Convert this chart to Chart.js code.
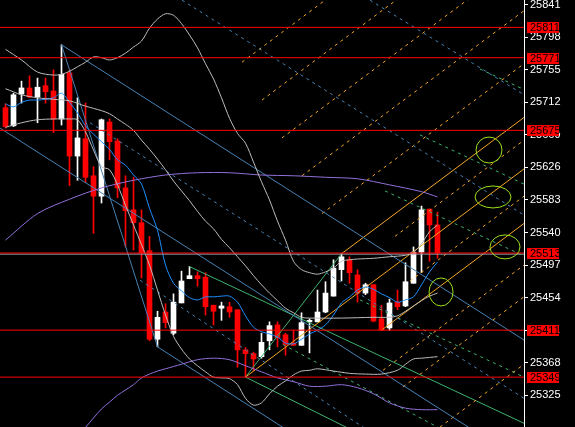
<!DOCTYPE html>
<html>
<head>
<meta charset="UTF-8">
<title>Chart</title>
<script src="https://cdn.jsdelivr.net/npm/chart.js@4"></script>
<style>
  html, body { margin: 0; padding: 0; background: #000; overflow: hidden; }
  canvas { display: block; }
</style>
</head>
<body>
<canvas id="c" width="575" height="427"></canvas>
<script>
// candles (one per bar, left to right)
const opens  = [25705,25681,25723,25731,25719,25734,25727,25690,25751,25641,25664,25615,25588,25686,25661,25599,25570,25553,25516,25399,25435,25407,25447,25479,25483,25481,25444,25440,25442,25438,25385,25380,25376,25397,25418,25405,25394,25391,25422,25422,25435,25456,25491,25504,25484,25460,25471,25426,25414,25448,25443,25473,25514,25571,25550];
const highs  = [25710,25724,25740,25747,25744,25744,25755,25788,25755,25718,25711,25627,25690,25690,25664,25615,25613,25570,25535,25436,25446,25459,25489,25495,25488,25487,25444,25448,25448,25438,25388,25382,25407,25422,25422,25407,25411,25434,25426,25464,25475,25504,25512,25508,25491,25473,25471,25444,25452,25464,25500,25521,25575,25571,25567];
const lows   = [25678,25680,25711,25718,25685,25711,25672,25682,25602,25609,25606,25539,25579,25636,25586,25521,25517,25480,25397,25389,25414,25405,25447,25479,25469,25431,25418,25424,25428,25362,25349,25358,25374,25385,25389,25378,25391,25391,25381,25422,25434,25456,25476,25473,25448,25458,25422,25411,25411,25438,25442,25473,25487,25502,25506];
const closes = [25680,25722,25731,25719,25732,25726,25690,25749,25641,25665,25613,25588,25689,25660,25599,25569,25553,25513,25399,25428,25421,25448,25476,25483,25479,25442,25436,25443,25435,25385,25380,25373,25395,25417,25401,25392,25391,25421,25424,25435,25460,25493,25508,25487,25460,25471,25423,25411,25447,25442,25475,25514,25570,25550,25513];

// fast moving average, one value per bar
const maFast = [25710,25706,25712,25715,25715,25716,25718,25724,25712,25698,25681,25670,25660,25650,25636,25629,25616,25604,25572,25543,25497,25473,25463,25454,25451,25455,25455,25456,25456,25448,25430,25415,25409,25406,25402,25394,25393,25399,25406,25411,25418,25431,25447,25455,25464,25468,25465,25459,25454,25448,25451,25455,25471,25488,25501];

// bands: [bar, price]
const bandUpper = [[0,25782],[2,25768],[4,25752],[6,25748],[7,25749],[8,25753],[9,25759],[10,25765],[11,25772],[12,25771],[13,25768],[14,25771],[15,25777],[16,25785],[17,25793],[18,25810],[19,25822],[20,25829],[21,25827],[22,25816],[23,25801],[24,25784],[25,25763],[26,25743],[27,25718],[28,25691],[29,25671],[30,25658],[31,25633],[32,25607],[33,25583],[34,25555],[35,25530],[36,25502],[37,25491],[38,25487],[39,25485],[40,25488],[41,25493],[42,25502],[43,25504],[44,25505],[46,25506],[48,25508],[50,25510],[51,25514],[52,25525],[53,25541],[54,25550]];
const bandMid = [[0,25730],[2,25722],[4,25718],[6,25716],[8,25714],[10,25707],[12,25701],[13,25697],[14,25690],[15,25683],[16,25675],[17,25662],[18,25650],[19,25637],[20,25623],[21,25608],[22,25595],[23,25582],[24,25568],[25,25555],[26,25545],[27,25531],[28,25520],[29,25508],[30,25496],[31,25483],[32,25471],[33,25460],[34,25450],[35,25440],[36,25434],[37,25428],[38,25427],[42,25427],[46,25428],[48,25428],[49,25430],[50,25436],[51,25443],[52,25450],[53,25456],[54,25460]];
const bandLower = [[0,25679],[2,25685],[4,25689],[6,25690],[8,25690],[9,25689],[10,25673],[11,25649],[12,25627],[13,25623],[14,25603],[15,25576],[16,25550],[17,25524],[18,25497],[19,25464],[20,25431],[21,25403],[22,25386],[23,25373],[24,25364],[25,25356],[26,25349],[27,25348],[28,25347],[29,25339],[30,25321],[31,25312],[32,25315],[33,25327],[34,25337],[35,25344],[36,25352],[37,25357],[38,25358],[39,25360],[41,25357],[43,25354],[45,25353],[47,25353],[49,25358],[50,25366],[51,25373],[52,25374],[54,25376]];
const envUpper = [[0,25530],[4,25565],[8,25584],[12,25599],[16,25609],[20,25616],[24,25619],[28,25619],[32,25616],[36,25615],[40,25613],[44,25611],[48,25603],[52,25594],[54,25587]];
const envLower = [[9,25270],[11,25295],[12,25307],[13,25316],[14,25325],[15,25332],[16,25339],[17,25348],[18,25353],[19,25357],[20,25360],[22,25366],[24,25372],[26,25374],[28,25372],[30,25364],[32,25356],[34,25348],[36,25343],[38,25337],[40,25337],[42,25339],[44,25335],[46,25327],[48,25315],[50,25308],[52,25306],[54,25306]];

// horizontal levels
const redLevels = [25811, 25771, 25675, 25513, 25411, 25349];
const bidLevel = [25511.5];

// trend lines: [bar1, price1, bar2, price2]
const blueSolid = [[7,25788,64.81,25398],[-0.69,25678,64.81,25236]];
const blueZigzag = [[7,25788],[19,25389],[64.81,25078]];
const blueDashed = [[22.06,25847,64.81,25563],[45.56,25847,64.81,25722],[10.56,25685,64.81,25321],[16.81,25477,64.81,25143]];
const orangeSolid = [[42,25512,64.81,25692],[30,25349,64.81,25624],[47,25411,64.81,25552]];
const orangeDashed = [[29.56,25765,64.81,26043],[32.06,25715,64.81,25973],[34.56,25665,64.81,25903],[37.06,25615,64.81,25833],[39.56,25565,64.81,25763],[48.69,25535,64.81,25662],[50.56,25476,64.81,25588],[47.19,25358,64.81,25497],[49.69,25336,64.81,25455],[54.31,25283,64.81,25366]];
const greenSolid = [[23,25495,64.81,25288],[30,25349,42,25512],[30,25349,64.81,25166]];
const greenDashed = [[59.31,25756,64.81,25729],[51.81,25669,64.81,25604],[47.44,25595,64.81,25509],[44.31,25451,64.81,25349],[34.69,25392,64.81,25222]];

// marked zones: [bar, price]
const zones = [[60.44,25649],[60.94,25587],[62.44,25521],[54.44,25461.5]];

// price axis labels
const yTicks = [25841,25798,25755,25712,25669,25626,25583,25540,25497,25454,25411,25368,25325];

const xMin = -0.6875, xMax = 64.8125;
const yMin = 25283.1, yMax = 25847.2;

const zoneRadii = [[13,13],[18,11],[15,12],[12,14]];
const FONT = "'Liberation Sans Narrow', 'Liberation Sans', Arial, sans-serif";

function line(points, color, dash, tension) {
  return {
    type: 'line',
    data: points.map(p => ({x: p[0], y: p[1]})),
    borderColor: color,
    borderWidth: 1,
    borderDash: dash || [],
    pointRadius: 0,
    fill: false,
    tension: tension || 0,
    order: 1
  };
}

const datasets = [];
const idx = opens.map((_, i) => i);
const candleColors = idx.map(i => closes[i] >= opens[i] ? '#ffffff' : '#ff0000');

datasets.push({
  type: 'bar', data: idx.map(i => ({x: i, y: [lows[i], highs[i]]})),
  backgroundColor: candleColors, barThickness: 1, grouped: false, order: 20
});
datasets.push({
  type: 'bar', data: idx.map(i => ({x: i, y: [opens[i], closes[i]]})),
  backgroundColor: candleColors, barThickness: 5, minBarLength: 1, grouped: false, order: 19
});

redLevels.forEach(v => datasets.push(line([[xMin, v], [xMax, v]], '#ff0000')));
bidLevel.forEach(v => datasets.push(line([[xMin, v], [xMax, v]], '#9aa6b4')));

datasets.push(line(bandUpper, '#bdbdbd', null, 0.3));
datasets.push(line(bandMid, '#bdbdbd', null, 0.3));
datasets.push(line(bandLower, '#bdbdbd', null, 0.3));
datasets.push(line(envUpper, '#9370db', null, 0.3));
datasets.push(line(envLower, '#9370db', null, 0.3));
datasets.push(line(idx.map(i => [i, maFast[i]]), '#1e90ff', null, 0.3));

blueSolid.forEach(s => datasets.push(line([[s[0], s[1]], [s[2], s[3]]], '#4682b4')));
datasets.push(line(blueZigzag, '#4682b4'));
blueDashed.forEach(s => datasets.push(line([[s[0], s[1]], [s[2], s[3]]], '#4682b4', [3, 4])));
orangeSolid.forEach(s => datasets.push(line([[s[0], s[1]], [s[2], s[3]]], '#f5a623')));
orangeDashed.forEach(s => datasets.push(line([[s[0], s[1]], [s[2], s[3]]], '#f5a623', [3, 4])));
greenSolid.forEach(s => datasets.push(line([[s[0], s[1]], [s[2], s[3]]], '#3cb371')));
greenDashed.forEach(s => datasets.push(line([[s[0], s[1]], [s[2], s[3]]], '#3cb371', [3, 4])));

const overlay = {
  id: 'overlay',
  beforeDraw(chart) {
    const ctx = chart.ctx;
    ctx.save();
    ctx.fillStyle = '#000';
    ctx.fillRect(0, 0, chart.width, chart.height);
    ctx.restore();
  },
  afterDatasetsDraw(chart) {
    const {ctx, chartArea, scales} = chart;
    ctx.save();
    ctx.beginPath();
    ctx.rect(chartArea.left, chartArea.top, chartArea.right - chartArea.left, chartArea.bottom - chartArea.top);
    ctx.clip();
    ctx.strokeStyle = '#9de01b';
    ctx.lineWidth = 1;
    zones.forEach((z, k) => {
      const cx = scales.x.getPixelForValue(z[0]);
      const cy = scales.y.getPixelForValue(z[1]);
      ctx.beginPath();
      ctx.ellipse(cx, cy, zoneRadii[k][0], zoneRadii[k][1], 0, 0, Math.PI * 2);
      ctx.stroke();
    });
    ctx.restore();
  },
  afterDraw(chart) {
    const {ctx, chartArea, scales} = chart;
    ctx.save();
    ctx.font = '11px ' + FONT;
    ctx.textBaseline = 'middle';
    ctx.textAlign = 'left';
    redLevels.forEach(v => {
      const y = scales.y.getPixelForValue(v);
      ctx.fillStyle = '#ff0000';
      ctx.fillRect(chartArea.right + 3, Math.round(y) - 5, 32, 11);
      ctx.fillStyle = '#000';
      ctx.fillText(String(v), chartArea.right + 6, Math.round(y) + 0.5);
    });
    ctx.restore();
  }
};

new Chart(document.getElementById('c'), {
  type: 'bar',
  data: { datasets },
  options: {
    responsive: false,
    animation: false,
    devicePixelRatio: 1,
    layout: { padding: 0 },
    plugins: { legend: { display: false }, tooltip: { enabled: false } },
    scales: {
      x: { type: 'linear', display: false, min: xMin, max: xMax, offset: false },
      y: {
        type: 'linear', position: 'right', min: yMin, max: yMax,
        afterBuildTicks: s => { s.ticks = yTicks.map(v => ({value: v})); },
        afterFit: s => { s.width = 51; s.paddingTop = 0; s.paddingBottom = 0; },
        grid: { drawOnChartArea: false, drawTicks: true, tickLength: 4, color: '#ffffff' },
        border: { color: '#ffffff' },
        ticks: { color: '#ffffff', padding: 2, autoSkip: false, font: { family: FONT, size: 11 }, callback: v => String(v) }
      }
    }
  },
  plugins: [overlay]
});
</script>
</body>
</html>
